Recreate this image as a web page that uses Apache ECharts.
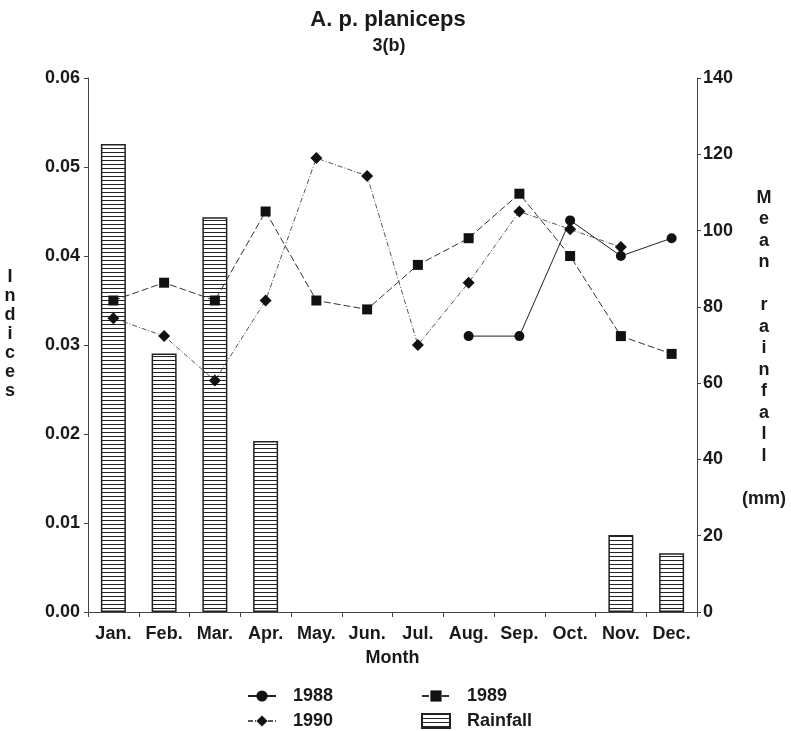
<!DOCTYPE html>
<html><head><meta charset="utf-8">
<script src="https://cdn.jsdelivr.net/npm/echarts@6/dist/echarts.min.js"></script>
<style>html,body{margin:0;padding:0;background:#fff}#c{width:791px;height:731px}</style>
</head><body><div id="c"></div>
<script>
const months = ['Jan.','Feb.','Mar.','Apr.','May.','Jun.','Jul.','Aug.','Sep.','Oct.','Nov.','Dec.'];
const s1988 = [null,null,null,null,null,null,null,0.031,0.031,0.044,0.040,0.042];
const s1989 = [0.035,0.037,0.035,0.045,0.035,0.034,0.039,0.042,0.047,0.040,0.031,0.029];
const s1990 = [0.033,0.031,0.026,0.035,0.051,0.049,0.030,0.037,0.045,0.043,0.041,null];
const rainfall = [122.7,67.8,103.5,44.8,null,null,null,null,null,null,20.2,15.4];
const leftTicks = {min:0,max:0.06,interval:0.01};
const rightTicks = {min:0,max:140,interval:20};

const FONT = 'Arial, "Liberation Sans", sans-serif';
const TXT = '#1a1a1a';
const AX = '#444';

const pc = document.createElement('canvas'); pc.width = 8; pc.height = 4;
const pctx = pc.getContext('2d');
pctx.fillStyle = '#fff'; pctx.fillRect(0,0,8,4);
pctx.fillStyle = '#222'; pctx.fillRect(0,0,8,1);
const hatch = {image: pc, repeat: 'repeat'};

const chart = echarts.init(document.getElementById('c'), null, {renderer:'canvas'});
const lbl = {fontFamily: FONT, fontWeight: 'bold', fontSize: 18, color: TXT};
const legendCommon = {orient: 'vertical', top: 687, height: 44, padding: 0, itemWidth: 28, itemHeight: 14, itemGap: 7,
  textStyle: Object.assign({padding: [0,0,0,12], lineHeight: 18}, lbl)};
chart.setOption({
  animation: false,
  backgroundColor: '#fff',
  grid: {left: 88, right: 94, top: 78, bottom: 119, containLabel: false},
  xAxis: {
    type: 'category', data: months, boundaryGap: true,
    axisLine: {lineStyle: {color: AX, width: 1}},
    axisTick: {show: true, interval: 0, length: 5, lineStyle: {color: AX}},
    axisLabel: Object.assign({margin: 13, interval: 0}, lbl),
    name: 'Month', nameLocation: 'middle', nameGap: 37,
    nameTextStyle: lbl
  },
  yAxis: [
    {type: 'value', min: leftTicks.min, max: leftTicks.max, interval: leftTicks.interval,
     axisLine: {show: true, lineStyle: {color: AX}},
     axisTick: {show: true, length: 4, lineStyle: {color: AX}},
     splitLine: {show: false},
     axisLabel: Object.assign({margin: 8, formatter: v => v.toFixed(2)}, lbl)},
    {type: 'value', min: rightTicks.min, max: rightTicks.max, interval: rightTicks.interval,
     position: 'right',
     axisLine: {show: true, lineStyle: {color: AX}},
     axisTick: {show: true, length: 4, lineStyle: {color: AX}},
     splitLine: {show: false},
     axisLabel: Object.assign({margin: 6}, lbl)}
  ],
  legend: [
    Object.assign({data: ['1988','1990'], left: 247}, legendCommon),
    Object.assign({data: ['1989', {name: 'Rainfall', icon: 'rect'}], left: 421}, legendCommon)
  ],
  graphic: [
    {type: 'text', x: 388, y: 20, style: {text: 'A. p. planiceps', font: 'bold 22px ' + FONT, fill: TXT, align: 'center', verticalAlign: 'middle'}},
    {type: 'text', x: 389, y: 46, style: {text: '3(b)', font: 'bold 18px ' + FONT, fill: TXT, align: 'center', verticalAlign: 'middle'}},
    {type: 'text', x: 10, y: 268, style: {text: 'I\nn\nd\ni\nc\ne\ns', font: 'bold 18px ' + FONT, lineHeight: 19, fill: TXT, align: 'center', verticalAlign: 'top'}},
    {type: 'text', x: 764, y: 187, style: {text: 'M\ne\na\nn\n\nr\na\ni\nn\nf\na\nl\nl\n\n(mm)', font: 'bold 18px ' + FONT, lineHeight: 21.5, fill: TXT, align: 'center', verticalAlign: 'top'}}
  ],
  series: [
    {name: 'Rainfall', type: 'bar', yAxisIndex: 1, data: rainfall, barWidth: 25, z: 1,
     itemStyle: {color: hatch, borderColor: '#222', borderWidth: 1.5}},
    {name: '1988', type: 'line', data: s1988, symbol: 'circle', symbolSize: 10, z: 5,
     itemStyle: {color: '#111'}, lineStyle: {color: '#222', width: 1, type: 'solid'}},
    {name: '1989', type: 'line', data: s1989, symbol: 'rect', symbolSize: 10, z: 5,
     itemStyle: {color: '#111'}, lineStyle: {color: '#333', width: 1, type: [7,3]}},
    {name: '1990', type: 'line', data: s1990, symbol: 'diamond', symbolSize: 12, z: 5,
     itemStyle: {color: '#111'}, lineStyle: {color: '#555', width: 1, type: [5,2,1,2]}}
  ]
});
</script></body></html>
